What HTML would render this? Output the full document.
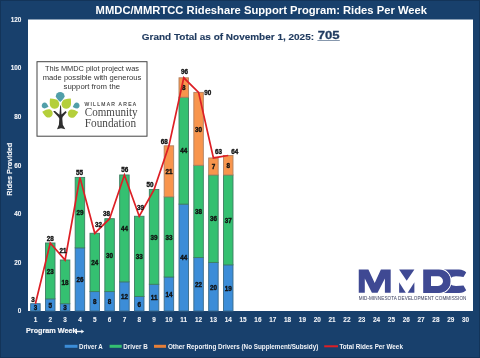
<!DOCTYPE html>
<html><head><meta charset="utf-8">
<style>
html,body{margin:0;padding:0;}
body{width:480px;height:358px;overflow:hidden;background:#18406c;position:relative;font-family:"Liberation Sans",sans-serif;}
svg{position:absolute;left:0;top:0;will-change:transform;}
.dl{font-family:"Liberation Sans",sans-serif;font-weight:bold;font-size:6.3px;fill:#111;stroke:#111;stroke-width:0.35px;text-anchor:middle;}
.ax{font-family:"Liberation Sans",sans-serif;font-weight:bold;font-size:6.4px;fill:#f2f4f8;stroke:#f2f4f8;stroke-width:0.08px;text-anchor:middle;}
</style></head><body>
<svg width="480" height="358" viewBox="0 0 480 358">
<rect x="0.5" y="0.5" width="479" height="357" fill="#18406c" stroke="#133459" stroke-width="1"/>
<rect x="28.0" y="19.5" width="445.0" height="291.5" fill="#fff"/>
<rect x="30.67" y="303.71" width="9.5" height="7.29" fill="#3c8dd8" stroke="#3a6a8a" stroke-width="0.9"/>
<rect x="45.50" y="298.85" width="9.5" height="12.15" fill="#3c8dd8" stroke="#3a6a8a" stroke-width="0.9"/>
<rect x="45.50" y="242.98" width="9.5" height="55.87" fill="#35c071" stroke="#3d7f62" stroke-width="0.9"/>
<rect x="60.33" y="303.71" width="9.5" height="7.29" fill="#3c8dd8" stroke="#3a6a8a" stroke-width="0.9"/>
<rect x="60.33" y="259.99" width="9.5" height="43.72" fill="#35c071" stroke="#3d7f62" stroke-width="0.9"/>
<rect x="75.17" y="247.84" width="9.5" height="63.16" fill="#3c8dd8" stroke="#3a6a8a" stroke-width="0.9"/>
<rect x="75.17" y="177.40" width="9.5" height="70.45" fill="#35c071" stroke="#3d7f62" stroke-width="0.9"/>
<rect x="90.00" y="291.57" width="9.5" height="19.43" fill="#3c8dd8" stroke="#3a6a8a" stroke-width="0.9"/>
<rect x="90.00" y="233.27" width="9.5" height="58.30" fill="#35c071" stroke="#3d7f62" stroke-width="0.9"/>
<rect x="104.83" y="291.57" width="9.5" height="19.43" fill="#3c8dd8" stroke="#3a6a8a" stroke-width="0.9"/>
<rect x="104.83" y="218.69" width="9.5" height="72.88" fill="#35c071" stroke="#3d7f62" stroke-width="0.9"/>
<rect x="119.67" y="281.85" width="9.5" height="29.15" fill="#3c8dd8" stroke="#3a6a8a" stroke-width="0.9"/>
<rect x="119.67" y="174.97" width="9.5" height="106.88" fill="#35c071" stroke="#3d7f62" stroke-width="0.9"/>
<rect x="134.50" y="296.43" width="9.5" height="14.57" fill="#3c8dd8" stroke="#3a6a8a" stroke-width="0.9"/>
<rect x="134.50" y="216.26" width="9.5" height="80.16" fill="#35c071" stroke="#3d7f62" stroke-width="0.9"/>
<rect x="149.33" y="284.28" width="9.5" height="26.72" fill="#3c8dd8" stroke="#3a6a8a" stroke-width="0.9"/>
<rect x="149.33" y="189.54" width="9.5" height="94.74" fill="#35c071" stroke="#3d7f62" stroke-width="0.9"/>
<rect x="164.17" y="276.99" width="9.5" height="34.01" fill="#3c8dd8" stroke="#3a6a8a" stroke-width="0.9"/>
<rect x="164.17" y="196.83" width="9.5" height="80.16" fill="#35c071" stroke="#3d7f62" stroke-width="0.9"/>
<rect x="164.17" y="145.82" width="9.5" height="51.01" fill="#f8954d" stroke="#b08060" stroke-width="0.9"/>
<rect x="179.00" y="204.12" width="9.5" height="106.88" fill="#3c8dd8" stroke="#3a6a8a" stroke-width="0.9"/>
<rect x="179.00" y="97.23" width="9.5" height="106.88" fill="#35c071" stroke="#3d7f62" stroke-width="0.9"/>
<rect x="179.00" y="77.80" width="9.5" height="19.43" fill="#f8954d" stroke="#b08060" stroke-width="0.9"/>
<rect x="193.83" y="257.56" width="9.5" height="53.44" fill="#3c8dd8" stroke="#3a6a8a" stroke-width="0.9"/>
<rect x="193.83" y="165.25" width="9.5" height="92.31" fill="#35c071" stroke="#3d7f62" stroke-width="0.9"/>
<rect x="193.83" y="92.38" width="9.5" height="72.88" fill="#f8954d" stroke="#b08060" stroke-width="0.9"/>
<rect x="208.67" y="262.42" width="9.5" height="48.58" fill="#3c8dd8" stroke="#3a6a8a" stroke-width="0.9"/>
<rect x="208.67" y="174.97" width="9.5" height="87.45" fill="#35c071" stroke="#3d7f62" stroke-width="0.9"/>
<rect x="208.67" y="157.96" width="9.5" height="17.00" fill="#f8954d" stroke="#b08060" stroke-width="0.9"/>
<rect x="223.50" y="264.85" width="9.5" height="46.15" fill="#3c8dd8" stroke="#3a6a8a" stroke-width="0.9"/>
<rect x="223.50" y="174.97" width="9.5" height="89.88" fill="#35c071" stroke="#3d7f62" stroke-width="0.9"/>
<rect x="223.50" y="155.53" width="9.5" height="19.43" fill="#f8954d" stroke="#b08060" stroke-width="0.9"/>
<text x="35.42" y="310.16" class="dl">3</text>
<text x="50.25" y="307.73" class="dl">5</text>
<text x="50.25" y="273.72" class="dl">23</text>
<text x="65.08" y="310.16" class="dl">3</text>
<text x="65.08" y="284.65" class="dl">18</text>
<text x="79.92" y="282.22" class="dl">26</text>
<text x="79.92" y="215.42" class="dl">29</text>
<text x="94.75" y="304.08" class="dl">8</text>
<text x="94.75" y="265.22" class="dl">24</text>
<text x="109.58" y="304.08" class="dl">8</text>
<text x="109.58" y="257.93" class="dl">30</text>
<text x="124.42" y="299.23" class="dl">12</text>
<text x="124.42" y="231.21" class="dl">44</text>
<text x="139.25" y="306.51" class="dl">6</text>
<text x="139.25" y="259.14" class="dl">33</text>
<text x="154.08" y="300.44" class="dl">11</text>
<text x="154.08" y="239.71" class="dl">39</text>
<text x="168.92" y="296.80" class="dl">14</text>
<text x="168.92" y="239.71" class="dl">33</text>
<text x="168.92" y="174.12" class="dl">21</text>
<text x="183.75" y="260.36" class="dl">44</text>
<text x="183.75" y="153.48" class="dl">44</text>
<text x="183.75" y="90.32" class="dl">8</text>
<text x="198.58" y="287.08" class="dl">22</text>
<text x="198.58" y="214.20" class="dl">38</text>
<text x="198.58" y="131.61" class="dl">30</text>
<text x="213.42" y="289.51" class="dl">20</text>
<text x="213.42" y="221.49" class="dl">36</text>
<text x="213.42" y="169.26" class="dl">7</text>
<text x="228.25" y="290.72" class="dl">19</text>
<text x="228.25" y="222.71" class="dl">37</text>
<text x="228.25" y="168.05" class="dl">8</text>
<polyline points="35.42,303.71 50.25,242.98 65.08,259.99 79.92,177.40 94.75,233.27 109.58,218.69 124.42,174.97 139.25,216.26 154.08,189.54 168.92,145.82 183.75,77.80 198.58,92.38 213.42,157.96 228.25,155.53" fill="none" stroke="#dd1f25" stroke-width="1.7" stroke-linejoin="miter"/>
<text x="33.00" y="301.50" class="dl">3</text>
<text x="50.20" y="240.50" class="dl">28</text>
<text x="63.00" y="253.00" class="dl">21</text>
<text x="79.60" y="175.25" class="dl">55</text>
<text x="98.40" y="226.90" class="dl">32</text>
<text x="106.50" y="215.70" class="dl">38</text>
<text x="124.80" y="171.90" class="dl">56</text>
<text x="140.50" y="209.50" class="dl">39</text>
<text x="149.90" y="187.10" class="dl">50</text>
<text x="164.30" y="143.50" class="dl">68</text>
<text x="184.50" y="74.00" class="dl">96</text>
<text x="207.70" y="95.20" class="dl">90</text>
<text x="218.50" y="154.30" class="dl">63</text>
<text x="234.70" y="154.30" class="dl">64</text>
<text x="21.3" y="313.30" class="ax" style="text-anchor:end">0</text>
<text x="21.3" y="264.72" class="ax" style="text-anchor:end">20</text>
<text x="21.3" y="216.13" class="ax" style="text-anchor:end">40</text>
<text x="21.3" y="167.55" class="ax" style="text-anchor:end">60</text>
<text x="21.3" y="118.97" class="ax" style="text-anchor:end">80</text>
<text x="21.3" y="70.38" class="ax" style="text-anchor:end">100</text>
<text x="21.3" y="21.80" class="ax" style="text-anchor:end">120</text>
<text x="35.42" y="322" class="ax">1</text>
<text x="50.25" y="322" class="ax">2</text>
<text x="65.08" y="322" class="ax">3</text>
<text x="79.92" y="322" class="ax">4</text>
<text x="94.75" y="322" class="ax">5</text>
<text x="109.58" y="322" class="ax">6</text>
<text x="124.42" y="322" class="ax">7</text>
<text x="139.25" y="322" class="ax">8</text>
<text x="154.08" y="322" class="ax">9</text>
<text x="168.92" y="322" class="ax">10</text>
<text x="183.75" y="322" class="ax">11</text>
<text x="198.58" y="322" class="ax">12</text>
<text x="213.42" y="322" class="ax">13</text>
<text x="228.25" y="322" class="ax">14</text>
<text x="243.08" y="322" class="ax">15</text>
<text x="257.92" y="322" class="ax">16</text>
<text x="272.75" y="322" class="ax">17</text>
<text x="287.58" y="322" class="ax">18</text>
<text x="302.42" y="322" class="ax">19</text>
<text x="317.25" y="322" class="ax">20</text>
<text x="332.08" y="322" class="ax">21</text>
<text x="346.92" y="322" class="ax">22</text>
<text x="361.75" y="322" class="ax">23</text>
<text x="376.58" y="322" class="ax">24</text>
<text x="391.42" y="322" class="ax">25</text>
<text x="406.25" y="322" class="ax">26</text>
<text x="421.08" y="322" class="ax">27</text>
<text x="435.92" y="322" class="ax">28</text>
<text x="450.75" y="322" class="ax">29</text>
<text x="465.58" y="322" class="ax">30</text>
<!-- title -->
<text x="95.6" y="13.5" textLength="331.4" lengthAdjust="spacingAndGlyphs" style="font-weight:bold;font-size:11.6px;fill:#fff">MMDC/MMRTCC Rideshare Support Program: Rides Per Week</text>
<!-- subtitle -->
<text x="141.8" y="39.5" textLength="172.2" lengthAdjust="spacingAndGlyphs" style="font-weight:bold;font-size:9.8px;fill:#1f3a5f;stroke:#1f3a5f;stroke-width:0.15px">Grand Total as of November 1, 2025:</text>
<text x="317.7" y="39.1" textLength="21.9" lengthAdjust="spacingAndGlyphs" style="font-weight:bold;font-size:11.3px;fill:#1f3a5f;stroke:#1f3a5f;stroke-width:0.3px">705</text>
<rect x="317.4" y="40.2" width="22.4" height="0.8" fill="#6a7f99"/>
<!-- info box -->
<rect x="37" y="61.7" width="110" height="74.5" fill="#fff" stroke="#444" stroke-width="1"/>
<text x="44.9" y="70.9" textLength="94.1" lengthAdjust="spacingAndGlyphs" style="font-size:7px;fill:#333">This MMDC pilot project was</text>
<text x="42.75" y="79.9" textLength="98.5" lengthAdjust="spacingAndGlyphs" style="font-size:7px;fill:#333">made possible with generous</text>
<text x="63.6" y="89.2" textLength="56.4" lengthAdjust="spacingAndGlyphs" style="font-size:7px;fill:#333">support from the</text>

<!-- tree logo -->
<g>
<path d="M57,129.2 L58.9,124.8 L59.3,118.8 L58.4,116.9 L54.2,112.6 L53.2,111.1 L55,110.9 L59.4,114.7 L60.2,105.4 L61,105.4 L61.5,114.5 L65.6,111.1 L66.7,112.3 L62.6,116.9 L62.3,118.8 L62.8,124.8 L65.3,129.2 L61,128.2 Z" fill="#2e2e2e"/>
<path d="M0,5.8 Q4.4,1.8 4.4,0 A4.4,4.4 0 0 0 -4.4,0 Q-4.4,1.8 0,5.8 Z" transform="translate(60.2,96.3)" fill="#519fa9"/>
<path d="M0,6.5 Q4.8,2.2 4.8,-0.5 A4.8,4.8 0 0 0 -4.8,-0.5 Q-4.8,2.2 0,6.5 Z" transform="translate(54.2,103.6) rotate(140)" fill="#b4cf3b"/>
<path d="M0,6.5 Q4.8,2.2 4.8,-0.5 A4.8,4.8 0 0 0 -4.8,-0.5 Q-4.8,2.2 0,6.5 Z" transform="translate(66.6,103.6) rotate(-140)" fill="#b4cf3b"/>
<path d="M0,4 Q3,1.2 3,0 A3,3 0 0 0 -3,0 Q-3,1.2 0,4 Z" transform="translate(44.8,105.5) rotate(-70)" fill="#519fa9"/>
<path d="M0,4 Q3,1.2 3,0 A3,3 0 0 0 -3,0 Q-3,1.2 0,4 Z" transform="translate(76.5,105.6) rotate(70)" fill="#519fa9"/>
<path d="M0,6.2 Q4.2,2 4.2,-0.3 A4.2,4.2 0 0 0 -4.2,-0.3 Q-4.2,2 0,6.2 Z" transform="translate(48.2,113.3) rotate(105)" fill="#b4cf3b"/>
<path d="M0,6.2 Q4.2,2 4.2,-0.3 A4.2,4.2 0 0 0 -4.2,-0.3 Q-4.2,2 0,6.2 Z" transform="translate(72.3,113.5) rotate(-105)" fill="#b4cf3b"/>
</g>
<text x="84.4" y="105.5" textLength="51.7" lengthAdjust="spacing" style="font-size:5px;fill:#3a3a3a;stroke:#3a3a3a;stroke-width:0.12px">WILLMAR AREA</text>
<text x="84.8" y="116.1" textLength="52.8" lengthAdjust="spacingAndGlyphs" style="font-family:'Liberation Serif',serif;font-size:12px;fill:#474747">Community</text>
<text x="84.8" y="126.8" textLength="51.3" lengthAdjust="spacingAndGlyphs" style="font-family:'Liberation Serif',serif;font-size:11.6px;fill:#474747">Foundation</text>
<!-- MMDC logo -->
<g fill="#3f4993">
<path d="M358.75,269.5 L368.4,269.5 L374.7,283 L380.9,269.5 L390.7,269.5 L390.7,292.7 L384.9,292.7 L384.9,278.5 L377.6,292.7 L371.9,292.7 L364.8,278.5 L364.8,292.7 L358.75,292.7 Z"/>
<path d="M399.1,269.4 L414.4,269.4 L406.7,280.7 Z"/>
<path d="M399.1,282.3 L399.1,292.8 L405.8,292.8 Z"/>
<path d="M414.4,282.3 L414.4,292.8 L407.7,292.8 Z"/>
<path d="M444,269.6 L459,269.6 Q464,270 466.2,272.4 L463.5,277 Q460.5,276.3 456,276.3 Q452.5,276.4 450,278.5 L444,278.5 Z"/>
<path d="M444,293 L459,293 Q464,292.6 466.2,290.2 L463.5,285.6 Q460.5,286 456,286 Q452.5,285.9 450,284 L444,284 Z"/>
<path d="M439,268.9 A12,12.3 0 0 1 439,293.5" fill="none" stroke="#fff" stroke-width="1.1"/>
<path d="M423.2,269.4 L439,269.4 A11.5,11.8 0 0 1 439,293 L423.2,293 Z M431,276.3 L438,276.3 A5,4.85 0 0 1 438,286 L431,286 Z" fill-rule="evenodd"/>
</g>
<text x="358.7" y="299.8" textLength="107.7" lengthAdjust="spacing" style="font-size:4.6px;fill:#454a68;stroke:#454a68;stroke-width:0.04px">MID-MINNESOTA DEVELOPMENT COMMISSION</text>
<!-- arrow on program week -->
<path d="M75.3,331.5 L82,331.5" stroke="#f2f4f8" stroke-width="1.4"/>
<path d="M81.3,329.6 L84.2,331.5 L81.3,333.4 Z" fill="#f2f4f8"/>
<path d="M76.4,328.8 L76.4,334" stroke="#f2f4f8" stroke-width="1.2"/>

<!-- y label -->
<text transform="translate(12.0,195.7) rotate(-90)" textLength="52.9" lengthAdjust="spacingAndGlyphs" style="font-weight:bold;font-size:7.4px;fill:#f2f4f8;stroke:#f2f4f8;stroke-width:0.15px">Rides Provided</text>
<!-- x title -->
<text x="26" y="333.3" textLength="50.5" lengthAdjust="spacingAndGlyphs" style="font-weight:bold;font-size:7.4px;fill:#f2f4f8;stroke:#f2f4f8;stroke-width:0.2px">Program Week</text>
<!-- legend -->
<rect x="64.7" y="344.8" width="12.8" height="3" fill="#3c8dd8"/>
<text x="79" y="348.6" textLength="23.7" lengthAdjust="spacingAndGlyphs" style="font-weight:bold;font-size:6.5px;fill:#f2f4f8">Driver A</text>
<rect x="109.6" y="344.8" width="12.1" height="3" fill="#35c071"/>
<text x="123.3" y="348.6" textLength="24.4" lengthAdjust="spacingAndGlyphs" style="font-weight:bold;font-size:6.5px;fill:#f2f4f8">Driver B</text>
<rect x="154" y="344.8" width="12" height="3" fill="#e57f39"/>
<text x="167.9" y="348.6" textLength="150.4" lengthAdjust="spacingAndGlyphs" style="font-weight:bold;font-size:6.5px;fill:#f2f4f8">Other Reporting Drivers (No Supplement/Subsidy)</text>
<rect x="324.2" y="345.3" width="13.8" height="2" fill="#dd1f25"/>
<text x="339.4" y="348.6" textLength="63.5" lengthAdjust="spacingAndGlyphs" style="font-weight:bold;font-size:6.5px;fill:#f2f4f8">Total Rides Per Week</text>
</svg>
</body></html>
